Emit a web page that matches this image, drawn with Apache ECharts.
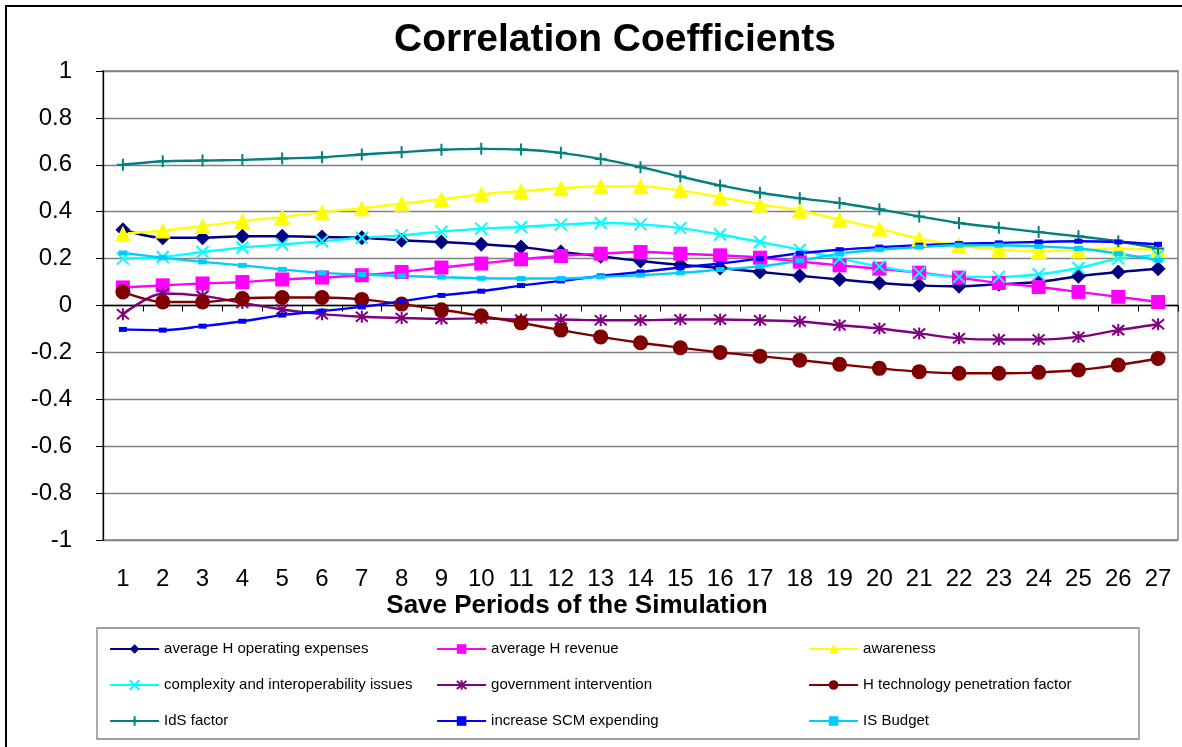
<!DOCTYPE html>
<html>
<head>
<meta charset="utf-8">
<title>Correlation Coefficients</title>
<script src="https://cdn.jsdelivr.net/npm/echarts@6/dist/echarts.min.js"></script>
<style>
  html, body { margin: 0; padding: 0; background: #fff; }
  #chart { width: 1182px; height: 747px; }
</style>
</head>
<body>
<div id="chart"></div>
<script>
// Save periods of the simulation
const periods = ['1','2','3','4','5','6','7','8','9','10','11','12','13','14','15','16','17','18','19','20','21','22','23','24','25','26','27'];

// Correlation coefficient per save period, one array per factor
const opExpenses   = [0.323,0.289,0.289,0.295,0.295,0.292,0.289,0.278,0.271,0.261,0.249,0.228,0.210,0.190,0.174,0.160,0.143,0.127,0.111,0.096,0.086,0.082,0.091,0.100,0.125,0.143,0.157];
const revenue      = [0.077,0.086,0.094,0.100,0.111,0.119,0.129,0.143,0.162,0.179,0.197,0.211,0.221,0.228,0.221,0.214,0.204,0.187,0.171,0.157,0.140,0.119,0.096,0.079,0.058,0.037,0.015];
const awareness    = [0.306,0.320,0.339,0.360,0.377,0.398,0.415,0.434,0.453,0.474,0.488,0.500,0.508,0.508,0.491,0.462,0.431,0.405,0.366,0.328,0.285,0.257,0.238,0.232,0.235,0.243,0.238];
const complexity   = [0.200,0.207,0.228,0.247,0.260,0.274,0.289,0.299,0.315,0.328,0.335,0.345,0.352,0.346,0.330,0.303,0.271,0.238,0.200,0.167,0.139,0.122,0.122,0.133,0.160,0.200,0.215];
const government   = [-0.037,0.051,0.041,0.011,-0.017,-0.037,-0.048,-0.053,-0.057,-0.055,-0.060,-0.060,-0.063,-0.063,-0.060,-0.060,-0.063,-0.068,-0.084,-0.098,-0.119,-0.140,-0.145,-0.145,-0.134,-0.105,-0.080];
const techPenetr   = [0.058,0.015,0.015,0.030,0.034,0.034,0.026,0.006,-0.018,-0.044,-0.074,-0.105,-0.134,-0.159,-0.180,-0.200,-0.216,-0.233,-0.251,-0.268,-0.282,-0.289,-0.289,-0.285,-0.275,-0.254,-0.226];
const idsFactor    = [0.600,0.615,0.618,0.621,0.627,0.632,0.644,0.654,0.664,0.668,0.665,0.651,0.625,0.590,0.550,0.512,0.481,0.457,0.437,0.410,0.380,0.352,0.332,0.313,0.295,0.274,0.243];
const scmSpending  = [-0.102,-0.105,-0.088,-0.067,-0.041,-0.024,-0.006,0.018,0.043,0.061,0.085,0.105,0.126,0.143,0.162,0.179,0.200,0.223,0.238,0.249,0.257,0.264,0.267,0.271,0.274,0.271,0.261];
const isBudget     = [0.224,0.204,0.186,0.171,0.154,0.139,0.132,0.126,0.121,0.116,0.115,0.115,0.122,0.129,0.139,0.153,0.167,0.191,0.221,0.238,0.249,0.257,0.257,0.252,0.243,0.221,0.193];

// Y-axis range and step
const yMin = -1, yMax = 1, yStep = 0.2;

const FONT = 'Liberation Sans, Arial, sans-serif';
const SYM_X = 'path://M0,0L10,10M10,0L0,10';
const SYM_STAR = 'path://M0,0L10,10M10,0L0,10M5,-1L5,11';
const SYM_PLUS = 'path://M5,0L5,10M1,5L9,5';

function lineSeries(name, data, color, symbol, size, opts) {
  opts = opts || {};
  return {
    name: name,
    type: 'line',
    data: data,
    smooth: 0.3,
    symbol: symbol,
    symbolSize: size,
    showAllSymbol: true,
    lineStyle: { color: color, width: 2.4 },
    itemStyle: {
      color: color,
      borderColor: color,
      borderWidth: opts.stroke ? 2 : 0
    },
    emphasis: { disabled: true },
    z: opts.z || 2
  };
}

const series = [
  lineSeries('average H operating expenses', opExpenses, '#000080', 'diamond', 15),
  lineSeries('average H revenue', revenue, '#FF00FF', 'rect', 14),
  lineSeries('awareness', awareness, '#FFFF00', 'triangle', 16),
  lineSeries('complexity and interoperability issues', complexity, '#00FFFF', SYM_X, 12, { stroke: true }),
  lineSeries('government intervention', government, '#800080', SYM_STAR, 12, { stroke: true }),
  lineSeries('H technology penetration factor', techPenetr, '#800000', 'circle', 15),
  lineSeries('IdS factor', idsFactor, '#008080', SYM_PLUS, 12, { stroke: true }),
  lineSeries('increase SCM expending', scmSpending, '#0000FF', 'rect', [8, 5]),
  lineSeries('IS Budget', isBudget, '#00CCFF', 'rect', [9, 5])
];

const legendBase = {
  orient: 'vertical',
  top: 635,
  itemWidth: 49,
  itemHeight: 12,
  itemGap: 18,
  lineStyle: { width: 2.2 },
  textStyle: { fontFamily: FONT, fontSize: 15, color: '#000', lineHeight: 18 },
  selectedMode: false
};

const chart = echarts.init(document.getElementById('chart'), null, { renderer: 'canvas' });
chart.setOption({
  backgroundColor: '#ffffff',
  animation: false,
  textStyle: { fontFamily: FONT },
  title: {
    text: 'Correlation Coefficients',
    left: 610,
    top: 16,
    textAlign: 'center',
    textStyle: { fontSize: 39, fontWeight: 'bold', color: '#000', fontFamily: FONT }
  },
  grid: {
    left: 103, right: 4, top: 71, bottom: 207,
    show: true, borderColor: '#808080', borderWidth: 1.5
  },
  xAxis: {
    type: 'category',
    data: periods,
    boundaryGap: true,
    axisLine: { lineStyle: { color: '#000', width: 1.3 } },
    axisTick: { show: true, length: 6, lineStyle: { color: '#000' } },
    axisLabel: { fontSize: 24, color: '#000', margin: 27, interval: 0 },
    splitLine: { show: false }
  },
  yAxis: {
    type: 'value',
    min: yMin, max: yMax, interval: yStep,
    axisLine: { show: true, lineStyle: { color: '#000', width: 1.3 } },
    axisTick: { show: true, length: 7, lineStyle: { color: '#000' } },
    axisLabel: {
      fontSize: 24, color: '#000', margin: 31,
      formatter: v => String(Math.round(v * 10) / 10)
    },
    splitLine: { show: true, lineStyle: { color: '#808080', width: 1.3 } }
  },
  legend: [
    Object.assign({}, legendBase, { left: 104, data: ['average H operating expenses', 'complexity and interoperability issues', 'IdS factor'] }),
    Object.assign({}, legendBase, { left: 431, data: ['average H revenue', 'government intervention', 'increase SCM expending'] }),
    Object.assign({}, legendBase, { left: 803, data: ['awareness', 'H technology penetration factor', 'IS Budget'] })
  ],
  graphic: [
    {
      type: 'rect',
      shape: { x: 6, y: 6, width: 1200, height: 760 },
      style: { fill: 'none', stroke: '#000', lineWidth: 2 },
      silent: true
    },
    {
      type: 'rect',
      shape: { x: 97, y: 628, width: 1042, height: 111 },
      style: { fill: 'none', stroke: '#808080', lineWidth: 1.3 },
      silent: true, z: -1
    },
    {
      type: 'text',
      x: 577, y: 606,
      style: {
        text: 'Save Periods of the Simulation',
        fontSize: 26, fontWeight: 'bold', fill: '#000',
        fontFamily: FONT,
        align: 'center', verticalAlign: 'middle'
      },
      silent: true
    }
  ],
  series: series
});
</script>
</body>
</html>
